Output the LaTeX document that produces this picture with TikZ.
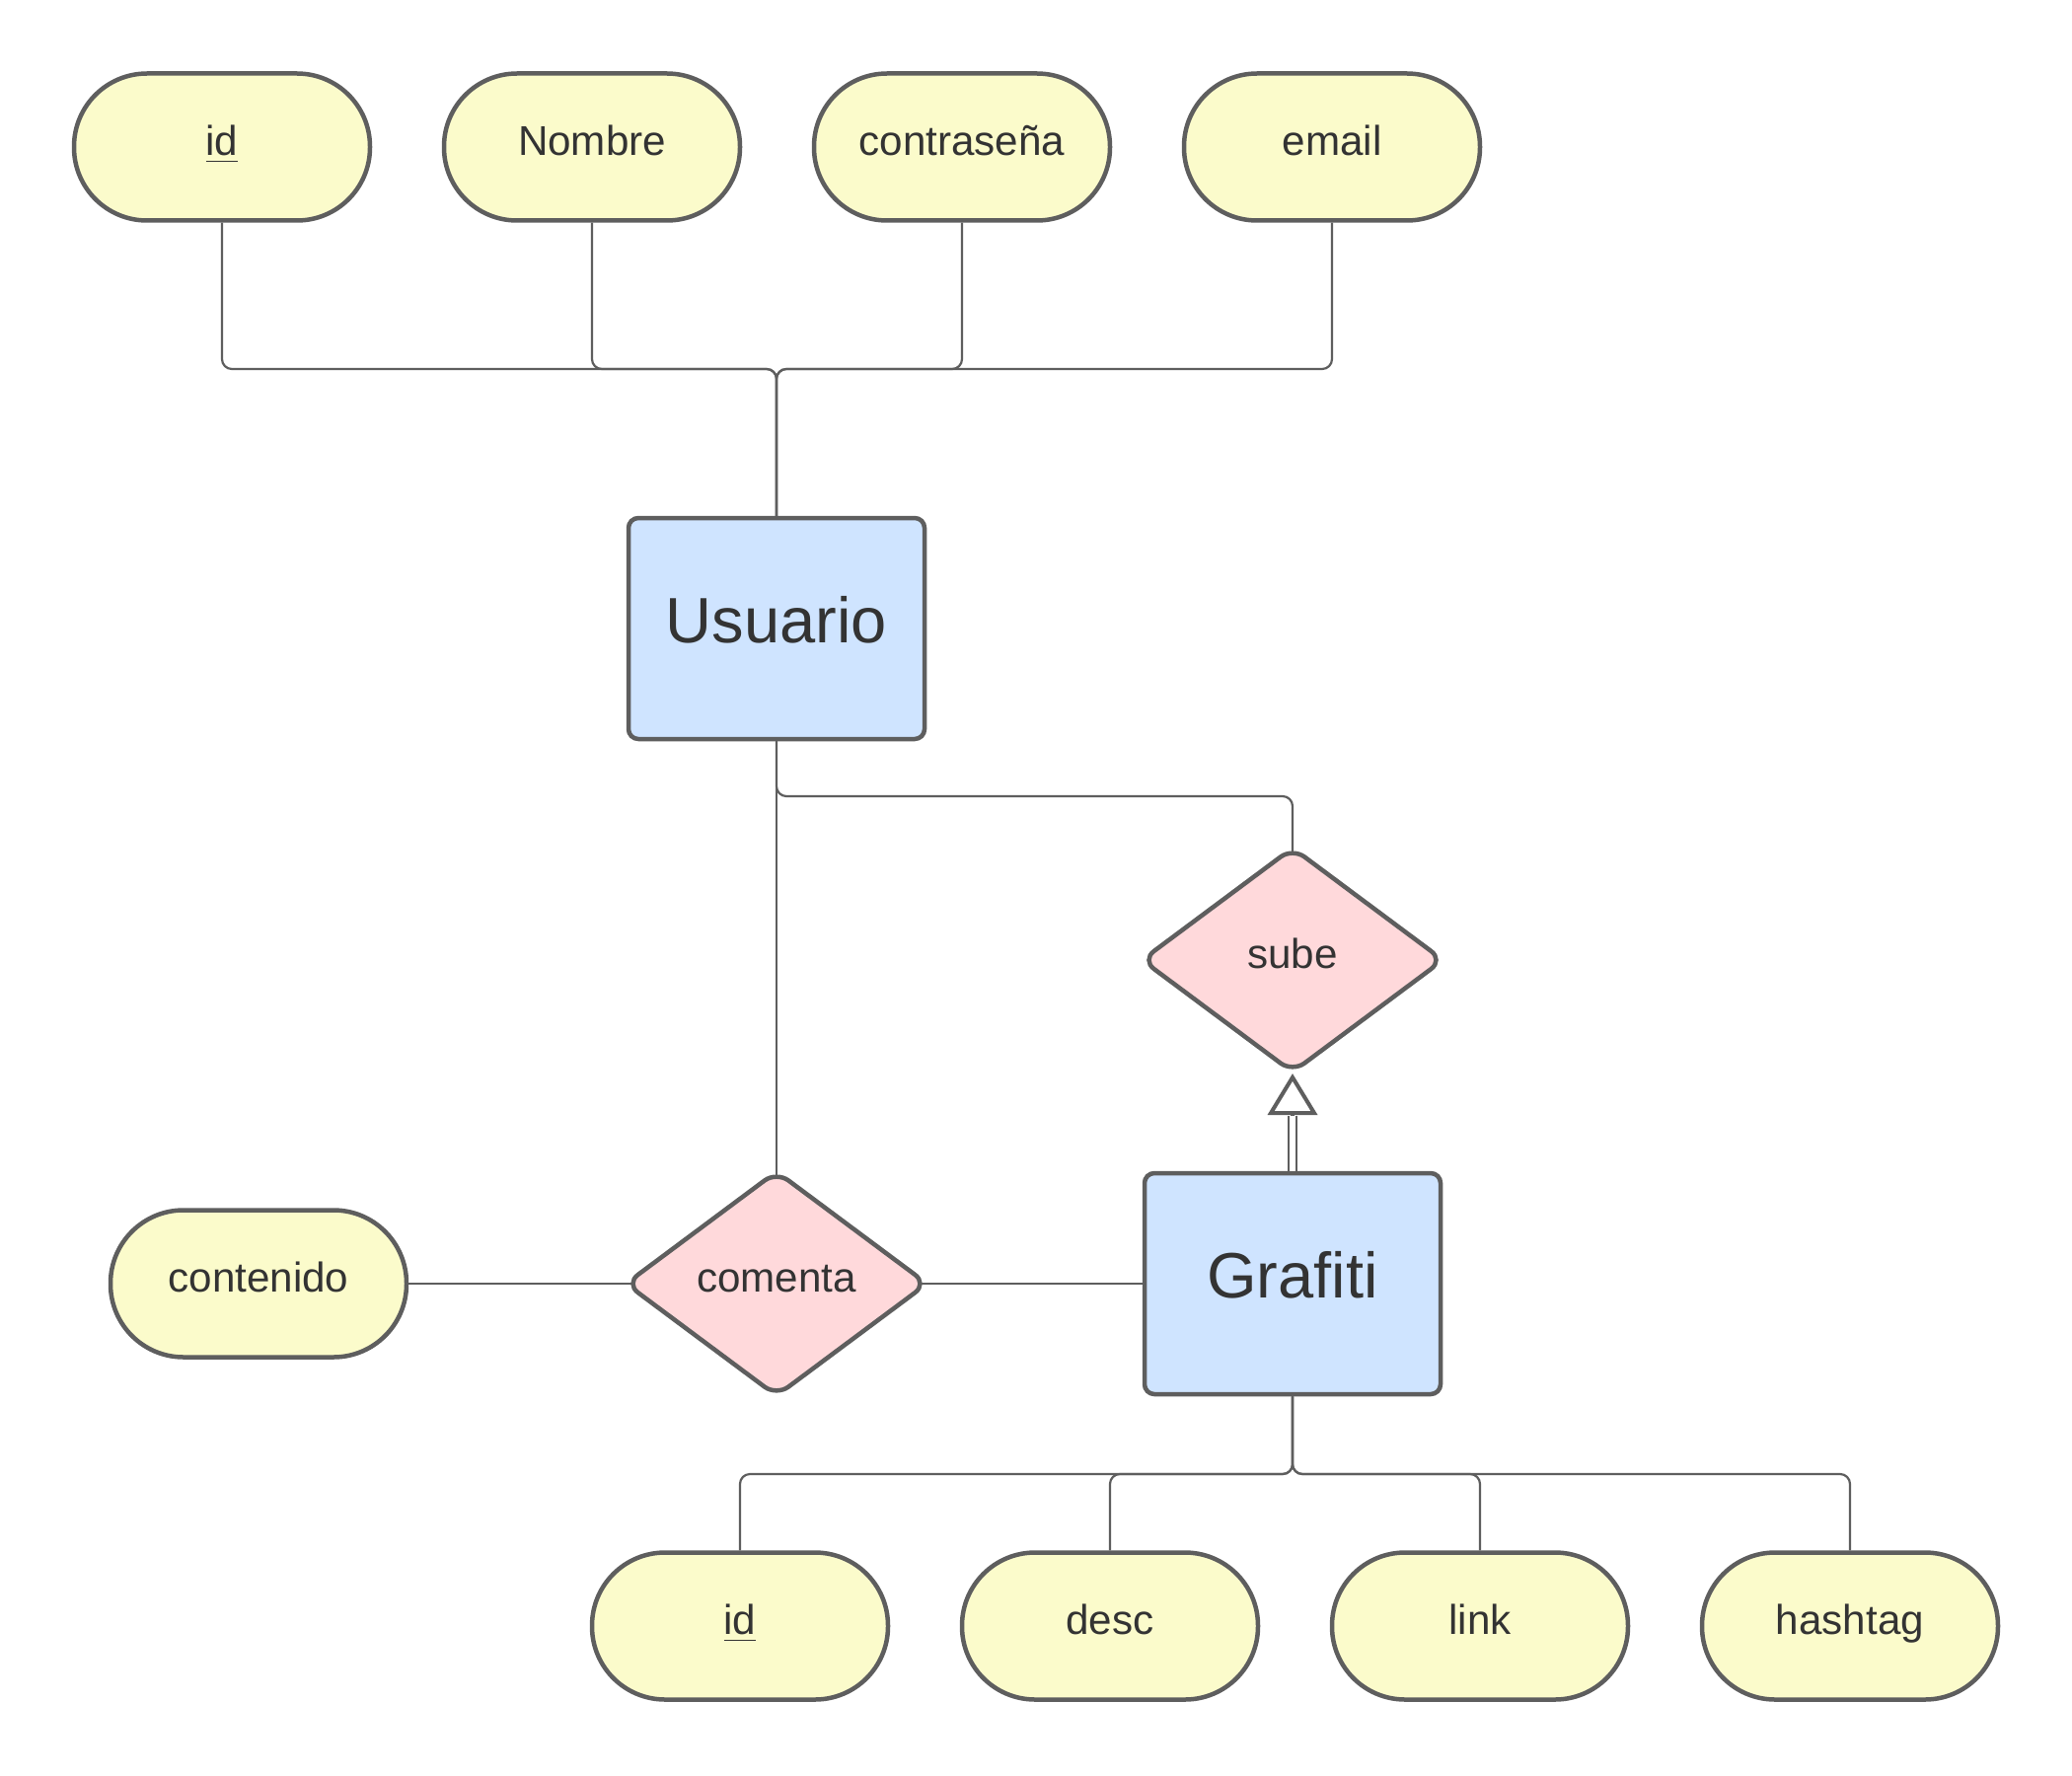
\documentclass[tikz,border=0pt]{standalone}
\usepackage{fontspec}
\setmainfont{Liberation Sans}
\usepackage{xcolor}
\definecolor{erline}{HTML}{5E5E5E}
\definecolor{ertext}{HTML}{333333}
\definecolor{eryellow}{HTML}{FBFBCB}
\definecolor{erblue}{HTML}{CFE4FF}
\definecolor{erpink}{HTML}{FFD9DB}
\usetikzlibrary{shapes.geometric,arrows.meta,positioning,backgrounds}

\begin{document}
\begin{tikzpicture}[x=0.1mm,y=-0.1mm,node distance=7.05mm,text=ertext,
  attr/.style={rectangle,rounded corners=7.4mm,draw=erline,line width=0.45mm,fill=eryellow,minimum width=30mm,minimum height=14.9mm,inner sep=0pt,text height=8pt,text depth=2.9pt,font=\fontsize{12}{14}\selectfont},
  ent/.style={rectangle,rounded corners=1mm,draw=erline,line width=0.45mm,fill=erblue,minimum width=30mm,minimum height=22.4mm,inner sep=0pt,text height=13pt,text depth=4.5pt,font=\fontsize{18.5}{22}\selectfont},
  rel/.style={diamond,rounded corners=1.5mm,draw=erline,line width=0.45mm,fill=erpink,minimum width=30.7mm,minimum height=22.9mm,inner sep=0pt,text height=8pt,text depth=2.9pt,font=\fontsize{12}{14}\selectfont},
  ln/.style={draw=erline,line width=0.22mm,rounded corners=1mm},
  isa/.style={draw=erline,line width=0.22mm,double=white,double distance=0.6mm}]
\useasboundingbox (0,0) rectangle (2100,1800);
% Usuario y sus atributos
\node[attr] (u1) at (225,149) {\underline{id}};
\node[attr,right=of u1] (u2) {Nombre};
\node[attr,right=of u2] (u3) {contraseña};
\node[attr,right=of u3] (u4) {email};
\node[ent] (usu) at (787,637) {Usuario};
\coordinate (ubus) at (787,374);
\draw[ln] (u1.south) |- (ubus) -- (usu.north);
\draw[ln] (u2.south) |- (ubus) -- (usu.north);
\draw[ln] (u3.south) |- (ubus) -- (usu.north);
\draw[ln] (u4.south) |- (ubus) -- (usu.north);
% relaciones
\node[rel] (sube) at (1310,973) {sube};
\node[rel] (com) at (787,1301) {comenta};
\node[attr] (cont) at (262,1301) {contenido};
\node[ent] (graf) at (1310,1301) {Grafiti};
\coordinate (sbend) at (787,807);
\begin{scope}[on background layer]
\draw[ln] (usu.south) -- (sbend) -| (sube.center);
\draw[ln] (usu.south) -- (com.center);
\draw[ln] (cont.east) -- (com.center);
\draw[ln] (com.center) -- (graf.west);
\end{scope}
% Grafiti sube
\coordinate (abase) at (1310,1131);
\coordinate (atip) at (1310,1088);
\draw[isa] (graf.north) -- (abase);
\draw[draw=erline,line width=0.4mm,-{Triangle[open,length=4.2mm,width=5mm,line width=0.4mm]}] (abase) -- (atip);
% atributos de Grafiti
\node[attr] (g1) at (750,1648) {\underline{id}};
\node[attr,right=of g1] (g2) {desc};
\node[attr,right=of g2] (g3) {link};
\node[attr,right=of g3] (g4) {hashtag};
\coordinate (gbus) at (1310,1494);
\draw[ln] (graf.south) -- (gbus) -| (g1.north);
\draw[ln] (graf.south) -- (gbus) -| (g2.north);
\draw[ln] (graf.south) -- (gbus) -| (g3.north);
\draw[ln] (graf.south) -- (gbus) -| (g4.north);
\end{tikzpicture}
\end{document}
